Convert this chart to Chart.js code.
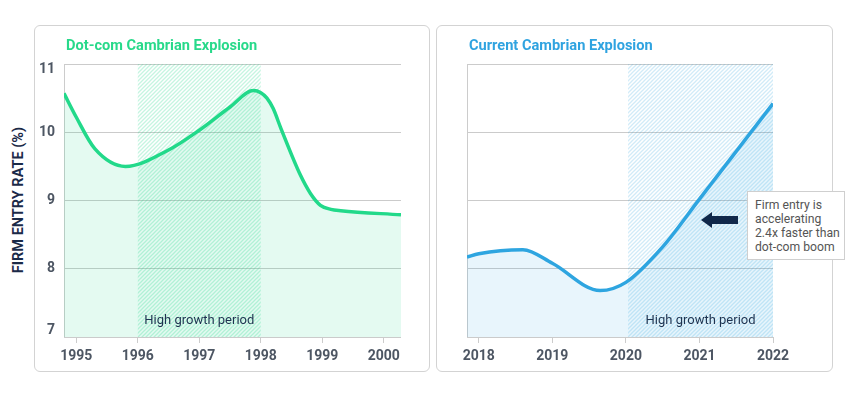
<!DOCTYPE html>
<html><head><meta charset="utf-8">
<script src="https://cdn.jsdelivr.net/npm/chart.js@4"></script>
<style>
body{margin:0;background:#fff;width:856px;height:398px;position:relative;overflow:hidden;font-family:Roboto,sans-serif}
.panel{position:absolute;top:25px;height:347px;border:1px solid #d3d3d3;border-radius:6px;box-sizing:border-box}
canvas{position:absolute;top:25px}
.title{position:absolute;top:35px;font-weight:bold;font-size:14.6px;line-height:20px;white-space:nowrap}
.ytitle{position:absolute;left:18px;top:200px;transform:translate(-50%,-50%) rotate(-90deg);font-weight:bold;font-size:14.5px;color:#1b2a48;white-space:nowrap}
.note{position:absolute;left:747px;top:191px;width:98px;height:69px;box-sizing:border-box;border:1px solid #cfcfcf;background:#fff;padding:6px 0 0 7px;font-size:12.2px;line-height:14px;color:#555;white-space:nowrap}
.arrow{position:absolute;left:700px;top:211px}
</style></head>
<body>
<div class="panel" style="left:34px;width:396px"></div>
<div class="panel" style="left:436px;width:397px"></div>
<canvas id="c1" width="396" height="347" style="left:34px"></canvas>
<canvas id="c2" width="397" height="347" style="left:436px"></canvas>
<div class="title" style="left:66px;color:#27d98a">Dot-com Cambrian Explosion</div>
<div class="title" style="left:469px;color:#2fa3e0">Current Cambrian Explosion</div>
<div class="ytitle">FIRM ENTRY RATE (%)</div>
<svg class="arrow" width="40" height="18" viewBox="0 0 40 18"><polygon points="1,9 12,1 12,5 38,5 38,13 12,13 12,17" fill="#10284a"/></svg>
<div class="note">Firm entry is<br>accelerating<br>2.4x faster than<br>dot-com boom</div>
<script>
const leftYears  = [1994.8, 1995.0, 1995.3, 1995.8, 1996.5, 1997.0, 1997.5, 1997.88, 1998.0, 1998.1, 1998.2, 1998.33, 1998.64, 1998.81, 1998.97, 1999.14, 1999.3, 2000.28];
const leftRates  = [10.57, 10.22, 9.76, 9.50, 9.74, 10.03, 10.37, 10.61, 10.58, 10.50, 10.35, 10.05, 9.38, 9.10, 8.93, 8.87, 8.85, 8.79];
const rightYears = [2017.84, 2018.0, 2018.6, 2019.0, 2019.65, 2020.0, 2020.5, 2021.0, 2022.0];
const rightRates = [8.17, 8.22, 8.28, 8.08, 7.68, 7.80, 8.32, 9.02, 10.42];
const leftXTicks  = [1995, 1996, 1997, 1998, 1999, 2000];
const rightXTicks = [2018, 2019, 2020, 2021, 2022];
const yTicks = [7, 8, 9, 10, 11];
const leftBand  = [1996, 1998];
const rightBand = [2020.03, 2022];
const bandLabel = 'High growth period';

function makePattern(ctx, color){
  const c = document.createElement('canvas'); c.width = 4; c.height = 4;
  const g = c.getContext('2d');
  g.strokeStyle = color; g.lineWidth = 1.3;
  g.beginPath();
  g.moveTo(-1,5); g.lineTo(5,-1);
  g.moveTo(-1,1); g.lineTo(1,-1);
  g.moveTo(3,5); g.lineTo(5,3);
  g.stroke();
  return ctx.createPattern(c, 'repeat');
}

const bandPlugin = {
  id: 'band',
  beforeDatasetDraw(chart, args, o){
    const {ctx, chartArea:a, scales:{x}} = chart;
    const x0 = x.getPixelForValue(o.band[0]), x1 = x.getPixelForValue(o.band[1]);
    ctx.save();
    ctx.beginPath(); ctx.rect(a.left, a.top, a.right-a.left, a.bottom-a.top); ctx.clip();
    ctx.fillStyle = makePattern(ctx, o.hatch);
    ctx.fillRect(x0, a.top, x1-x0, a.bottom-a.top);
    ctx.restore();
  },
  afterDraw(chart, args, o){
    const {ctx, chartArea:a, scales:{x, y}} = chart;
    const x0 = x.getPixelForValue(o.band[0]), x1 = x.getPixelForValue(o.band[1]);
    ctx.save();
    ctx.font = '13px Roboto';
    ctx.fillStyle = '#1e3350';
    ctx.textAlign = 'center'; ctx.textBaseline = 'middle';
    ctx.fillText(bandLabel, (x0+x1)/2, a.bottom - 16);
    if (o.yLabels){
      ctx.font = 'bold 14px Roboto';
      ctx.fillStyle = '#4d5663';
      ctx.textAlign = 'right';
      yTicks.forEach(v => {
        let py = y.getPixelForValue(v);
        py = Math.min(Math.max(py, a.top + 5), a.bottom - 7);
        ctx.fillText(String(v), a.left - 9, py);
      });
    }
    ctx.restore();
  }
};

function makeChart(id, years, rates, xTicks, band, color, fill, hatch, xMin, xMax, yW, padR, yLabels){
  new Chart(document.getElementById(id), {
    type: 'line',
    data: { datasets: [{
      data: years.map((v,i) => ({x: v, y: rates[i]})),
      borderColor: color, borderWidth: 3.5, pointRadius: 0,
      cubicInterpolationMode: 'monotone',
      fill: 'start', backgroundColor: fill
    }]},
    options: {
      responsive: false, animation: false, devicePixelRatio: 1,
      layout: { padding: { top: 39, right: padR, left: 0, bottom: 0 } },
      plugins: { legend: {display: false}, tooltip: {enabled: false}, band: {band, hatch, yLabels} },
      scales: {
        x: {
          type: 'linear', min: xMin, max: xMax,
          afterBuildTicks: s => { s.ticks = xTicks.map(v => ({value: v})); },
          afterFit: s => { s.height = 35; },
          ticks: { callback: v => String(v), font: {family: 'Roboto', size: 14, weight: 'bold'}, color: '#4d5663', padding: 5, maxRotation: 0, autoSkip: false },
          grid: { drawOnChartArea: false, drawTicks: true, tickLength: 6, color: '#cccccc' },
          border: { display: false }
        },
        y: {
          min: 7, max: 11,
          afterBuildTicks: s => { s.ticks = yTicks.map(v => ({value: v})); },
          afterFit: s => { s.width = yW; },
          ticks: { display: false },
          grid: { color: '#cbcbcb', drawTicks: false },
          border: { display: true, color: '#cccccc' }
        }
      }
    },
    plugins: [bandPlugin]
  });
}

makeChart('c1', leftYears, leftRates, leftXTicks, leftBand, '#22d98a', 'rgba(34,217,138,0.12)', 'rgba(34,217,138,0.26)', 1994.8, 2000.28, 30, 29, true);
makeChart('c2', rightYears, rightRates, rightXTicks, rightBand, '#2ea5e0', 'rgba(46,165,224,0.11)', 'rgba(46,165,224,0.22)', 2017.84, 2022, 31, 60, false);
</script>
</body></html>
